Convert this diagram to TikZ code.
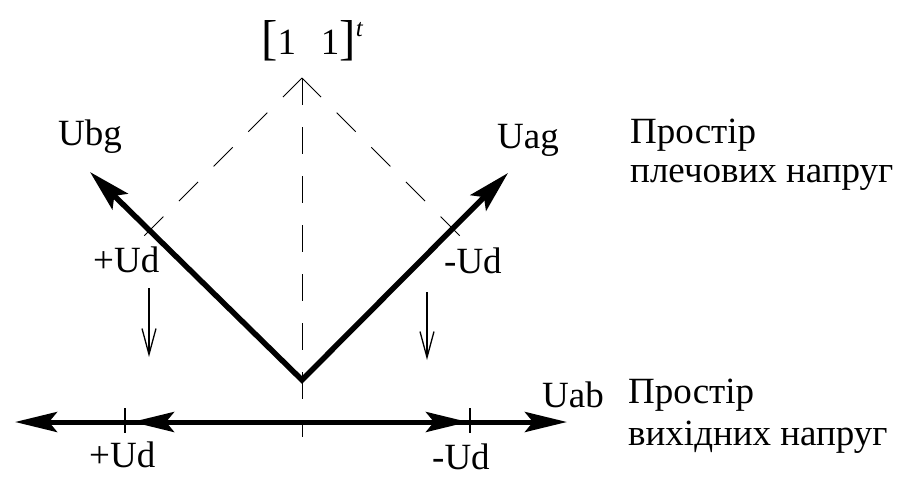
\documentclass[tikz,border=0pt]{standalone}
\usepackage{fontspec}
\setmainfont{Liberation Serif}
\usetikzlibrary{arrows.meta}
\begin{document}
\begin{tikzpicture}[x=1pt,y=-1pt,
  lbl/.style={inner sep=0pt, anchor=base west, font=\fontsize{37}{42}\selectfont},
  vecs/.style={line width=5.5pt, line join=miter,
    {Stealth[length=42pt,width=22pt,inset=8pt]}-{Stealth[length=42pt,width=22pt,inset=8pt]}},
  axisarrow/.style={line width=5pt, -{Stealth[length=42pt,width=20pt,inset=8pt]}},
  dashln/.style={line width=0.9pt, dash pattern=on 27pt off 22pt},
  tickln/.style={line width=1.2pt},
  downarrow/.style={line width=1.3pt, -{Straight Barb[length=26pt,width=14pt]}},
]
\useasboundingbox (0,0) rectangle (902,477);
% key points
\coordinate (O) at (302,380);
\coordinate (apex) at (302,78);
\coordinate (Ubgtip) at (90,172);
\coordinate (Uagtip) at (508,173);
\coordinate (dL) at (140,240);
\coordinate (dR) at (467,243);
\coordinate (vbot) at (302,437);
\coordinate (axC) at (302,422);
\coordinate (axL) at (15,422);
\coordinate (axR) at (567,422);
\coordinate (mL) at (132,422);
\coordinate (mR) at (468,422);
\coordinate (tLt) at (125,408);
\coordinate (tLb) at (125,433);
\coordinate (tRt) at (470,408);
\coordinate (tRb) at (470,433);
\coordinate (aLt) at (149,288);
\coordinate (aLb) at (149,357);
\coordinate (aRt) at (427,292);
\coordinate (aRb) at (427,360);

% dashed construction lines
\draw[dashln] (apex) -- (dL);
\draw[dashln] (apex) -- (dR);
\draw[dashln] (apex) -- (vbot);

% bold vectors
\draw[vecs] (Ubgtip) -- (O) -- (Uagtip);

% output axis
\draw[axisarrow] (axC) -- (axL);
\draw[axisarrow] (axC) -- (axR);
\draw[axisarrow] (axC) -- (mL);
\draw[axisarrow] (axC) -- (mR);
\draw[tickln] (tLt) -- (tLb);
\draw[tickln] (tRt) -- (tRb);

% projection arrows
\draw[downarrow] (aLt) -- (aLb);
\draw[downarrow] (aRt) -- (aRb);

% labels
\node[lbl] (top) at (261,54) {{\fontsize{49}{49}\selectfont[}1\hspace{25pt}1{\fontsize{49}{49}\selectfont]}\raisebox{18pt}{\fontsize{25}{25}\selectfont\itshape t}};
\node[lbl] (ubg) at (58,145) {Ubg};
\node[lbl] (uag) at (497,148) {Uag};
\node[lbl] (udl) at (93,272) {+Ud};
\node[lbl] (udr) at (444,273) {-Ud};
\node[lbl] (udbl) at (89,467) {+Ud};
\node[lbl] (udbr) at (432,469) {-Ud};
\node[lbl] (uab) at (542,407) {Uab};
\node[lbl] (sp1) at (630,143) {Простір};
\node[lbl] (sp2) at (630,182) {плечових напруг};
\node[lbl] (sp3) at (628,403) {Простір};
\node[lbl] (sp4) at (628,445) {вихідних напруг};
\end{tikzpicture}
\end{document}
